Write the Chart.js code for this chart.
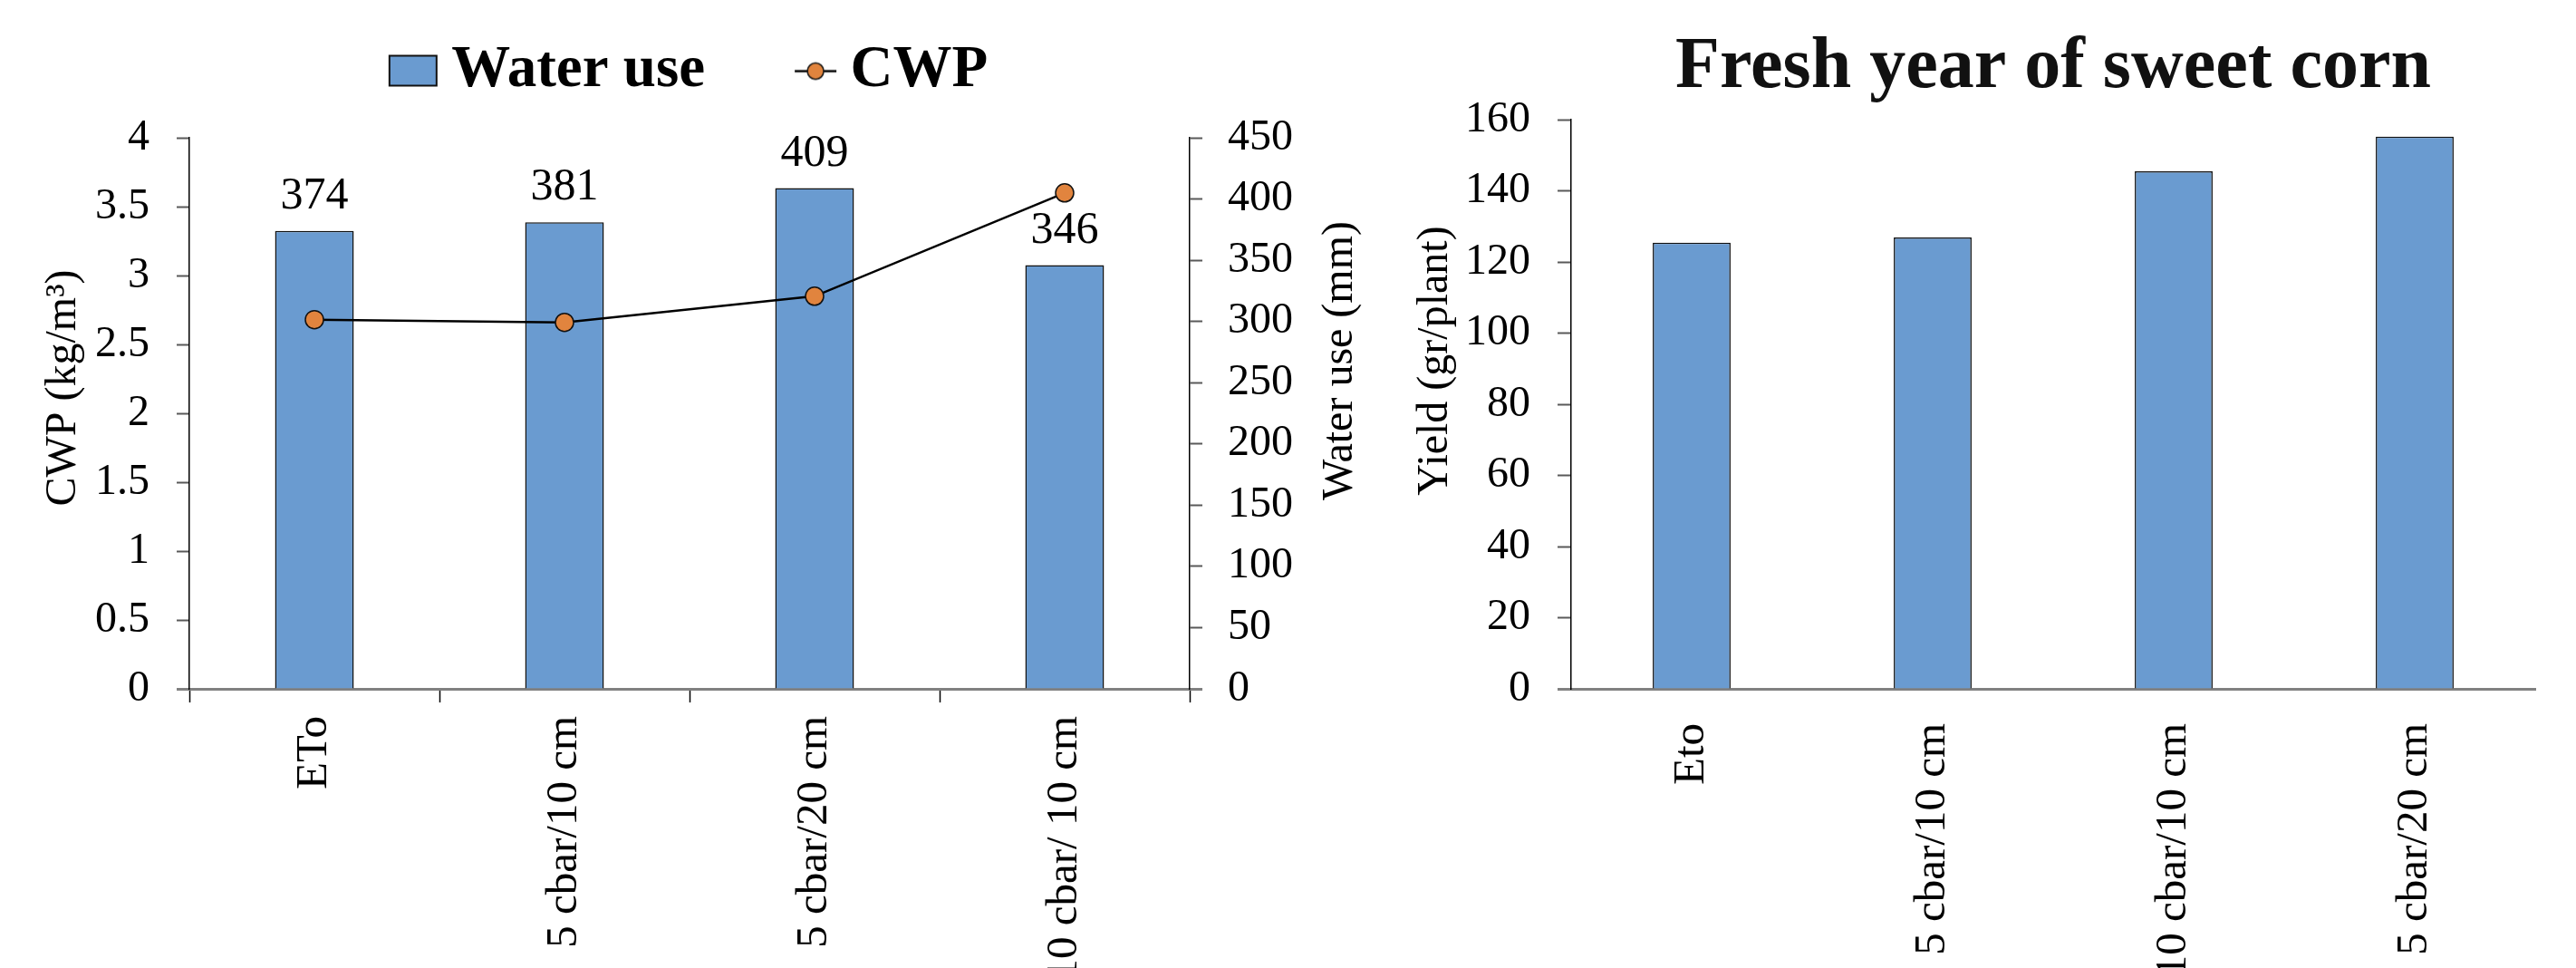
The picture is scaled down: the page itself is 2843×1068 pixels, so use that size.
<!DOCTYPE html>
<html>
<head>
<meta charset="utf-8">
<script src="https://cdn.jsdelivr.net/npm/chart.js@4.4.1/dist/chart.umd.min.js"></script>
<style>
  html, body { margin: 0; padding: 0; background: #fff; overflow: hidden; }
  #wrap { position: relative; width: 2843px; height: 1068px; }
  canvas { position: absolute; top: 0; }
  #left { left: 0; }
  #right { left: 1450px; }
</style>
</head>
<body>
<div id="wrap">
  <canvas id="left" width="1520" height="1068"></canvas>
  <canvas id="right" width="1393" height="1068"></canvas>
</div>
<script>
// left panel: water use (bars, right axis) and CWP (line, left axis)
const treatments = ['ETo', '5 cbar/10 cm', '5 cbar/20 cm', '10 cbar/ 10 cm'];
const waterUse = [374, 381, 409, 346];
const cwp = [2.68, 2.66, 2.85, 3.6];
const cwpTicks = [0, 0.5, 1, 1.5, 2, 2.5, 3, 3.5, 4];
const waterTicks = [0, 50, 100, 150, 200, 250, 300, 350, 400, 450];

// right panel: fresh yield
const yieldTreatments = ['Eto', '5 cbar/10 cm', '10 cbar/10 cm', '5 cbar/20 cm'];
const freshYield = [125.4, 126.9, 145.5, 155.2];
const yieldTicks = [0, 20, 40, 60, 80, 100, 120, 140, 160];

const FONT = "'Liberation Serif', 'Times New Roman', serif";
const BLUE = '#6a9bd0';
const ORANGE = '#e1843e';
const AXIS_GREY = '#808080';

const tickFont = { family: FONT, size: 48 };
const zeroTick = c => (c.tick && c.tick.value === 0);

// legend swatches (drawn into small canvases, used as point styles)
function swatch(draw) {
    const c = document.createElement('canvas');
    c.width = 160; c.height = 40;
    draw(c.getContext('2d'));
    return c;
}
const barSwatch = swatch(g => {
    g.fillStyle = BLUE;
    g.fillRect(104, 3, 52, 33);
    g.strokeStyle = '#111';
    g.lineWidth = 2;
    g.strokeRect(104, 3, 52, 33);
});
const lineSwatch = swatch(g => {
    g.strokeStyle = '#000';
    g.lineWidth = 2.5;
    g.beginPath(); g.moveTo(111, 20); g.lineTo(157, 20); g.stroke();
    g.beginPath(); g.arc(134, 20, 9, 0, Math.PI * 2);
    g.fillStyle = ORANGE; g.fill();
    g.lineWidth = 1.5; g.strokeStyle = '#111'; g.stroke();
});

const valueLabels = {
    id: 'valueLabels',
    afterDatasetsDraw(chart) {
        const { ctx } = chart;
        const meta = chart.getDatasetMeta(0);
        ctx.save();
        ctx.font = `50px ${FONT}`;
        ctx.fillStyle = '#000';
        ctx.textAlign = 'center';
        ctx.textBaseline = 'middle';
        meta.data.forEach((bar, i) => ctx.fillText(String(waterUse[i]), bar.x, bar.y - 38));
        ctx.restore();
    }
};

// vertical axis titles, reading bottom to top, sitting a bit above the plot's middle
function axisTitle(id, text, xAt, dy) {
    return {
        id,
        afterDraw(chart) {
            const { ctx, chartArea } = chart;
            ctx.save();
            ctx.translate(xAt(chart), (chartArea.top + chartArea.bottom) / 2 + dy);
            ctx.rotate(-Math.PI / 2);
            ctx.font = `48px ${FONT}`;
            ctx.fillStyle = '#000';
            ctx.textAlign = 'center';
            ctx.textBaseline = 'middle';
            ctx.fillText(text, 0, 0);
            ctx.restore();
        }
    };
}

new Chart(document.getElementById('left'), {
    type: 'bar',
    data: {
        labels: treatments,
        datasets: [
            {
                type: 'bar',
                label: 'Water use',
                data: waterUse,
                yAxisID: 'y1',
                backgroundColor: BLUE,
                borderColor: '#111',
                borderWidth: 1.5,
                barPercentage: 0.315,
                categoryPercentage: 1,
                order: 2,
            },
            {
                type: 'line',
                label: 'CWP',
                data: cwp,
                yAxisID: 'y',
                borderColor: '#000',
                borderWidth: 2.5,
                pointRadius: 10,
                pointBackgroundColor: ORANGE,
                pointBorderColor: '#111',
                pointBorderWidth: 1.5,
                tension: 0,
                order: 1,
            },
        ],
    },
    options: {
        responsive: false,
        animation: false,
        devicePixelRatio: 1,
        layout: { padding: { top: 38, right: 84, left: 0, bottom: 0 } },
        plugins: {
            tooltip: { enabled: false },
            legend: {
                position: 'top',
                weight: 1000,
                labels: {
                    usePointStyle: true,
                    pointStyleWidth: 120,
                    padding: 8,
                    color: '#000',
                    font: { family: FONT, size: 65, weight: 'bold' },
                    generateLabels: () => [
                        { text: 'Water use', pointStyle: barSwatch, lineWidth: 0, hidden: false, datasetIndex: 0 },
                        { text: 'CWP', pointStyle: lineSwatch, lineWidth: 0, hidden: false, datasetIndex: 1 },
                    ],
                },
            },
            // empty title used as a gap between legend and plot
            title: { display: true, text: '', weight: 500, padding: 0, font: { size: 31, lineHeight: 1 } },
        },
        scales: {
            x: {
                grid: { drawOnChartArea: false, tickLength: 15, tickColor: '#000', tickWidth: 1.5, offset: true },
                border: { color: AXIS_GREY, width: 3 },
                ticks: { minRotation: 90, maxRotation: 90, autoSkip: false, padding: 15, color: '#000', font: { family: FONT, size: 49 } },
                afterFit(s) { s.height = 308; s.paddingLeft = 0; s.paddingRight = 0; },
            },
            y: {
                position: 'left',
                min: cwpTicks[0],
                max: cwpTicks[cwpTicks.length - 1],
                ticks: {
                    stepSize: cwpTicks[1] - cwpTicks[0], padding: 30, color: '#000', font: tickFont,
                    callback: v => String(+v.toFixed(1)),
                },
                grid: {
                    drawOnChartArea: false, tickLength: 14,
                    tickColor: c => zeroTick(c) ? AXIS_GREY : '#595959',
                    tickWidth: c => zeroTick(c) ? 3 : 2,
                },
                border: { color: '#000', width: 1.5 },
                afterFit(s) { s.width = 209; },
            },
            y1: {
                position: 'right',
                min: waterTicks[0],
                max: waterTicks[waterTicks.length - 1],
                ticks: { stepSize: waterTicks[1] - waterTicks[0], padding: 28, color: '#000', font: tickFont },
                grid: {
                    drawOnChartArea: false, tickLength: 14,
                    tickColor: c => zeroTick(c) ? AXIS_GREY : '#595959',
                    tickWidth: c => zeroTick(c) ? 3 : 2,
                },
                border: { color: '#000', width: 1.5 },
                afterFit(s) { s.width = 123; },
            },
        },
    },
    plugins: [
        valueLabels,
        axisTitle('cwpTitle', 'CWP (kg/m³)', c => c.scales.y.left + 70, -28),
        axisTitle('waterTitle', 'Water use (mm)', c => c.scales.y1.right + 43, -58),
    ],
});

new Chart(document.getElementById('right'), {
    type: 'bar',
    data: {
        labels: yieldTreatments,
        datasets: [{
            label: 'Yield',
            data: freshYield,
            backgroundColor: BLUE,
            borderColor: '#111',
            borderWidth: 1.5,
            barPercentage: 0.323,
            categoryPercentage: 1,
        }],
    },
    options: {
        responsive: false,
        animation: false,
        devicePixelRatio: 1,
        layout: { padding: { top: 0, right: 45, left: 0, bottom: 0 } },
        plugins: {
            legend: { display: false },
            tooltip: { enabled: false },
            title: {
                display: true,
                text: 'Fresh year of sweet corn',
                fullSize: false,
                color: '#111',
                font: { family: FONT, size: 80, weight: 'bold', lineHeight: 1.2 },
                padding: { top: 27, bottom: 9 },
            },
        },
        scales: {
            x: {
                grid: { display: false },
                border: { color: AXIS_GREY, width: 3 },
                ticks: { minRotation: 90, maxRotation: 90, autoSkip: false, padding: 30, color: '#000', font: { family: FONT, size: 49 } },
                afterFit(s) { s.height = 308; s.paddingLeft = 0; s.paddingRight = 0; },
            },
            y: {
                min: yieldTicks[0],
                max: yieldTicks[yieldTicks.length - 1],
                ticks: { stepSize: yieldTicks[1] - yieldTicks[0], padding: 30, color: '#000', font: tickFont },
                grid: {
                    drawOnChartArea: false, tickLength: 15,
                    tickColor: c => zeroTick(c) ? AXIS_GREY : '#595959',
                    tickWidth: c => zeroTick(c) ? 3 : 2,
                },
                border: { color: '#000', width: 1.5 },
                afterFit(s) { s.width = 284; },
            },
        },
    },
    plugins: [
        axisTitle('yieldTitle', 'Yield (gr/plant)', c => c.scales.y.left + 134, -48),
    ],
});
</script>
</body>
</html>
